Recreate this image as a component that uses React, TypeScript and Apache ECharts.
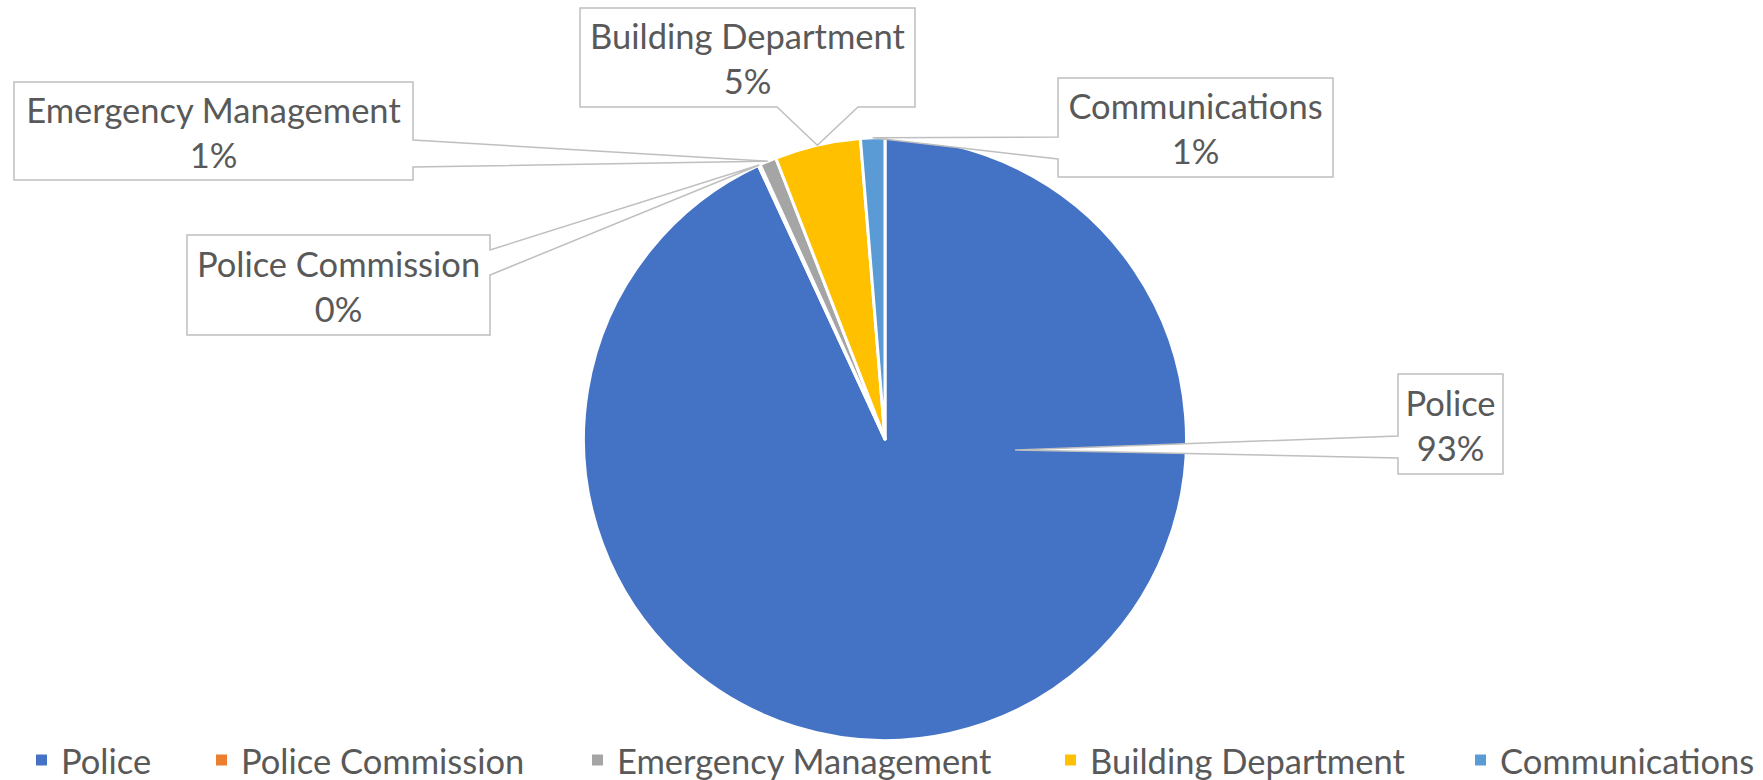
import React, { useEffect, useRef } from 'react';
import * as echarts from 'echarts';

// ---- data ----
const categories: string[] = ['Police', 'Police Commission', 'Emergency Management', 'Building Department', 'Communications'];
const shares: number[] = [93.1, 0.1, 0.9, 4.6, 1.3];
const colors: string[] = ['#4472C4', '#ED7D31', '#A5A5A5', '#FFC000', '#5B9BD5'];

// ---- layout (pixels) ----
type Side = 'left' | 'right' | 'bottom';
const calloutBoxes: number[][] = [
  [1398, 374, 1503, 474],
  [187, 235, 490, 335],
  [14, 82, 413, 180],
  [580, 8, 915, 107],
  [1058, 78, 1333, 177],
];
const calloutSides: Side[] = ['left', 'right', 'right', 'bottom', 'left'];
const calloutBases: number[][] = [[436, 458], [250, 275], [140, 167], [777, 858], [137, 159]];
const firstCalloutAnchor: number[] = [1015, 450];
const legendLefts: number[] = [34, 214, 590, 1063, 1473];

const PIE_CENTER = [885, 439];
const PIE_RADIUS = 301.5;
const FONT_FAMILY = 'Lato';
const TEXT_COLOR = '#595959';

function fitFontSize(text: string, target: number): number {
  const ctx = document.createElement('canvas').getContext('2d');
  if (!ctx) return 36;
  ctx.font = `100px ${FONT_FAMILY}`;
  const w = ctx.measureText(text).width;
  if (!w) return 36;
  return Math.round((100 * target / w) * 10) / 10;
}

function calloutPoints(box: number[], side: Side, base: number[], tip: number[]): number[][] {
  const [L, T, R, B] = box;
  if (side === 'right') return [[L, T], [R, T], [R, base[0]], tip, [R, base[1]], [R, B], [L, B]];
  if (side === 'left') return [[L, T], [R, T], [R, B], [L, B], [L, base[1]], tip, [L, base[0]]];
  return [[L, T], [R, T], [R, B], [base[1], B], tip, [base[0], B], [L, B]];
}

export default function App() {
  const ref = useRef<HTMLDivElement>(null);
  useEffect(() => {
    if (!ref.current) return;
    const chart = echarts.init(ref.current, null, { renderer: 'svg' });
    const fontSize = fitFontSize('Emergency Management', 375);

    const legends = categories.map((name, i) => ({
      data: [name],
      left: legendLefts[i],
      top: 742,
      padding: 0,
      itemWidth: 13,
      itemHeight: 13,
      icon: 'rect',
      selectedMode: false,
      textStyle: {
        color: TEXT_COLOR,
        fontSize,
        fontFamily: FONT_FAMILY,
        lineHeight: 36,
        padding: [0, 0, 0, 8],
      },
    }));

    chart.setOption({
      animation: false,
      color: colors,
      legend: legends,
      series: [
        {
          type: 'pie',
          center: PIE_CENTER,
          radius: PIE_RADIUS,
          startAngle: 90,
          clockwise: true,
          percentPrecision: 0,
          avoidLabelOverlap: false,
          label: { show: false },
          labelLine: { show: false },
          emphasis: { disabled: true },
          itemStyle: { borderColor: '#ffffff', borderWidth: 3 },
          data: categories.map((name, i) => ({ name, value: shares[i] })),
        },
      ],
    });

    const total = shares.reduce((a, b) => a + b, 0);
    let seriesModel: any = null;
    let data: any = null;
    try {
      seriesModel = (chart as any).getModel().getSeriesByIndex(0);
      data = seriesModel.getData();
    } catch (e) {
      seriesModel = null;
    }

    const elements: any[] = [];
    let acc = 0;
    categories.forEach((name, i) => {
      let cx = PIE_CENTER[0], cy = PIE_CENTER[1], r = PIE_RADIUS;
      let mid = -Math.PI / 2 + ((acc + shares[i] / 2) / total) * Math.PI * 2;
      const lay = data ? data.getItemLayout(i) : null;
      if (lay && typeof lay.startAngle === 'number') {
        mid = (lay.startAngle + lay.endAngle) / 2;
        cx = lay.cx; cy = lay.cy; r = lay.r;
      }
      acc += shares[i];
      const tip = i === 0 ? firstCalloutAnchor : [cx + r * Math.cos(mid), cy + r * Math.sin(mid)];
      let pct: any = null;
      if (seriesModel) {
        try { pct = seriesModel.getDataParams(i).percent; } catch (e) { pct = null; }
      }
      if (pct === null || pct === undefined) pct = Math.round((shares[i] / total) * 100);
      const box = calloutBoxes[i];
      elements.push({
        type: 'polygon',
        z: 10,
        silent: true,
        shape: { points: calloutPoints(box, calloutSides[i], calloutBases[i], tip) },
        style: { fill: '#ffffff', stroke: '#BFBFBF', lineWidth: 1.5 },
      });
      elements.push({
        type: 'text',
        z: 11,
        silent: true,
        x: (box[0] + box[2]) / 2,
        y: (box[1] + box[3]) / 2 + 0.5,
        style: {
          text: `${name}\n${Math.round(Number(pct))}%`,
          align: 'center',
          verticalAlign: 'middle',
          fill: TEXT_COLOR,
          fontSize,
          fontFamily: FONT_FAMILY,
          lineHeight: 45,
        },
      });
    });

    chart.setOption({ graphic: { elements } });

    return () => chart.dispose();
  }, []);

  return (
    <div
      ref={ref}
      style={{ position: 'absolute', left: 0, top: 0, width: 1763, height: 780, background: '#ffffff' }}
    />
  );
}
